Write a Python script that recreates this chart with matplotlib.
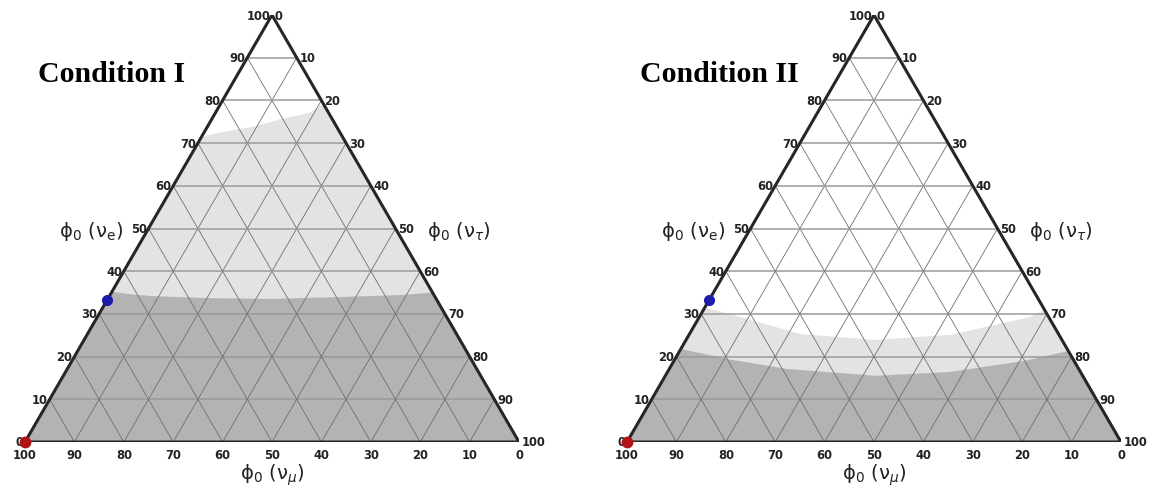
import numpy as np
import matplotlib
matplotlib.use("Agg")
import matplotlib.pyplot as plt
from matplotlib.patches import Polygon

# ternary points as (phi_e, phi_tau) in percent; phi_mu = 100 - e - tau
titles = ["Condition I", "Condition II"]

left_light_e = [71.4, 72.6, 73.8, 75.6, 76.8, 77.3, 79.2]
left_light_tau = [0, 3.6, 9.1, 14.0, 18.1, 19.3, 20.8]
left_dark_e = [35.2, 34.6, 34.2, 33.7, 33.5, 33.9, 34.4, 35.0]
left_dark_tau = [0, 4.0, 8.2, 20.0, 32.9, 45.0, 58.7, 65.0]

right_light_e = [31.5, 29.3, 25.3, 23.9, 25.1, 29.3, 31.0]
right_light_tau = [0, 8.3, 22.4, 38.3, 52.9, 67.0, 69.0]
right_dark_e = [21.8, 19.4, 17.1, 15.5, 16.4, 19.0, 21.3]
right_dark_tau = [0, 10.7, 23.9, 42.7, 57.2, 70.9, 78.7]

blue_point = (33.3, 0.0)    # (e, tau)
red_point = (0.0, 0.0)      # pure mu corner

ticks = list(range(0, 101, 10))

LIGHT = "#e3e3e3"
DARK = "#b3b3b3"
H = np.sqrt(3) / 2


def to_xy(e, tau):
    e = np.asarray(e, float) / 100
    tau = np.asarray(tau, float) / 100
    return tau + e / 2, e * H


def fill_below(ax, e_vals, tau_vals, color):
    x, y = to_xy(e_vals, tau_vals)
    pts = [(0, 0)] + list(zip(x, y)) + [(1, 0)]
    ax.add_patch(Polygon(pts, closed=True, facecolor=color, edgecolor="none", zorder=1))


def draw_tri(ax, title, light, dark):
    fill_below(ax, *light, LIGHT)
    fill_below(ax, *dark, DARK)

    for t in ticks[1:-1]:
        # constant e (horizontal)
        x, y = to_xy([t, t], [0, 100 - t])
        ax.plot(x, y, color="#9a9a9a", lw=1.1, zorder=2)
        # constant tau
        x, y = to_xy([0, 100 - t], [t, t])
        ax.plot(x, y, color="#6f6f6f", lw=0.6, zorder=2)
        # constant mu
        x, y = to_xy([0, 100 - t], [100 - t, 0])
        ax.plot(x, y, color="#6f6f6f", lw=0.6, zorder=2)

    x, y = to_xy([0, 0, 100, 0], [0, 100, 0, 0])
    ax.plot(x, y, color="#262626", lw=2.2, zorder=3, solid_joinstyle="miter")

    tk = dict(fontsize=8.3, fontweight="bold", color="#222222", zorder=4)
    for t in ticks:
        # left edge: phi_e
        x, y = to_xy(t, 0)
        ax.text(x - 0.004, y, str(t), ha="right", va="center", **tk)
        # right edge: phi_tau
        x, y = to_xy(100 - t, t)
        ax.text(x + 0.006, y, str(t), ha="left", va="center", **tk)
        # bottom edge: phi_mu
        x, y = to_xy(0, 100 - t)
        ax.text(x, y - 0.026, str(t), ha="center", va="center", **tk)

    ax.text(0.026, 0.748, title, ha="left", va="center", fontsize=21.5,
            fontweight="bold", family="Liberation Serif")
    lab = dict(fontsize=14, color="#222222")
    ax.text(0.198, 0.428, "ϕ$_0$ (ν$_{\\rm e}$)", ha="right", va="center", **lab)
    ax.text(0.814, 0.428, "ϕ$_0$ (ν$_\\tau$)", ha="left", va="center", **lab)
    ax.text(0.5, -0.066, "ϕ$_0$ (ν$_\\mu$)", ha="center", va="center", **lab)

    bx, by = to_xy(*blue_point)
    ax.plot(bx, by, "o", color="#1c1ca8", ms=7, zorder=5, clip_on=False)
    rx, ry = to_xy(*red_point)
    ax.plot(rx, ry, "o", color="#b01515", ms=7.5, zorder=5, clip_on=False)

    ax.set_xlim(0, 1)
    ax.set_ylim(0, H)
    ax.axis("off")


W, Hpx = 1161, 489
plt.rcParams["mathtext.fontset"] = "dejavusans"
fig = plt.figure(figsize=(W / 100, Hpx / 100), dpi=100)
ax1 = fig.add_axes([25 / W, (Hpx - 443) / Hpx, 494 / W, 427 / Hpx])
ax2 = fig.add_axes([627 / W, (Hpx - 443) / Hpx, 494 / W, 427 / Hpx])

draw_tri(ax1, titles[0], (left_light_e, left_light_tau), (left_dark_e, left_dark_tau))
draw_tri(ax2, titles[1], (right_light_e, right_light_tau), (right_dark_e, right_dark_tau))

fig.savefig("out.png", dpi=100)
